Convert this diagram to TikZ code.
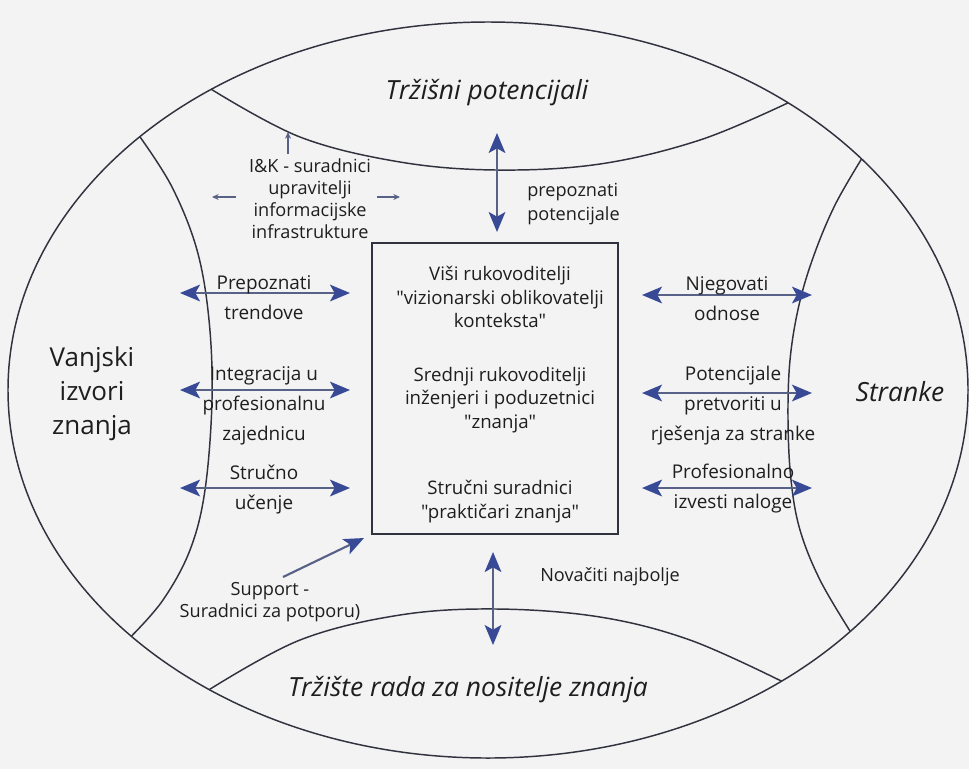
\documentclass[tikz,border=0pt]{standalone}
\usepackage{fontspec}
\setmainfont{Open Sans}[Ligatures=TeXOff]
\usetikzlibrary{arrows.meta,calc}
\definecolor{bg}{RGB}{243,243,243}
\definecolor{ln}{RGB}{48,50,62}
\definecolor{arr}{RGB}{56,74,150}
\definecolor{shaft}{RGB}{88,98,135}
\definecolor{txt}{RGB}{30,30,32}
\begin{document}
\begin{tikzpicture}[x=0.75pt,y=-0.75pt,
  curve/.style={draw=ln, line width=1.1pt},
  dbl/.style={draw=shaft, line width=1.6pt, {Stealth[length=15pt,width=12.5pt,inset=3.5pt,color=arr]}-{Stealth[length=15pt,width=12.5pt,inset=3.5pt,color=arr]}},
  sgl/.style={draw=shaft, line width=1.6pt, -{Stealth[length=15pt,width=12.5pt,inset=3.5pt,color=arr]}},
  thin/.style={draw=shaft, line width=0.9pt, -{Stealth[length=5pt,width=4.5pt]}},
  lbl/.style={text=txt, align=center, font=\fontsize{14.2pt}{22.5pt}\selectfont, inner sep=0pt},
  boxt/.style={text=txt, align=center, font=\fontsize{14pt}{17.5pt}\selectfont, inner sep=0pt},
  ikt/.style={text=txt, align=center, font=\fontsize{13.6pt}{16.5pt}\selectfont, inner sep=0pt},
  title/.style={text=txt, align=center, font=\fontsize{19.8pt}{25.5pt}\selectfont\itshape, inner sep=0pt},
  side/.style={text=txt, align=center, font=\fontsize{19.5pt}{25.5pt}\selectfont, inner sep=0pt}
]
\fill[bg] (0,0) rectangle (969,769);
\useasboundingbox (0,0) rectangle (969,769);

% outer ellipse
\coordinate (C) at (488,390);
\draw[curve] (C) ellipse [x radius=480, y radius=368];

% ellipse junction points
\coordinate (TL) at ($(C)+(-125.2:480 and 368)$);
\coordinate (TR) at ($(C)+(-51.3:480 and 368)$);
\coordinate (BL) at ($(C)+(125.5:480 and 368)$);
\coordinate (BR) at ($(C)+(52.3:480 and 368)$);
\coordinate (LT) at ($(C)+(-136.5:480 and 368)$);
\coordinate (LB) at ($(C)+(138:480 and 368)$);
\coordinate (RT) at ($(C)+(-38.9:480 and 368)$);
\coordinate (RB) at ($(C)+(41:480 and 368)$);

% inner arcs
\draw[curve] plot[smooth, tension=0.6] coordinates {(TL) (300,137) (400,162) (497,170) (600,164) (700,140) (TR)};
\draw[curve] plot[smooth, tension=0.6] coordinates {(BL) (300,640) (400,615) (497,609) (600,617) (690,640) (BR)};
\draw[curve] plot[smooth, tension=0.6] coordinates {(LT) (172,187) (197,250) (209,320) (212,400) (205,490) (190,550) (163,600) (LB)};
\draw[curve] plot[smooth, tension=0.6] coordinates {(RT) (835,205) (814,255) (799,305) (790,360) (788,420) (791,480) (800,530) (820,580) (RB)};

% central box
\node[draw=ln, line width=1.2pt, minimum width=184.5pt, minimum height=218.25pt, inner sep=0pt] (box) at (495,388.5) {};
\node[boxt] (b1) at (500,297) {Viši rukovoditelji\\"vizionarski oblikovatelji\\konteksta"};
\node[boxt] (b2) at (500,400) {Srednji rukovoditelji\\inženjeri i poduzetnici\\"znanja"};
\node[boxt] (b3) at (500,501.5) {Stručni suradnici\\"praktičari znanja"};

% titles
\node[title] (tp) at (487,93) {Tržišni potencijali};
\node[title] (tr) at (468,690) {Tržište rada za nositelje znanja};
\node[title] (st) at (900,392) {Stranke};
\node[side] (vz) at (92,394) {Vanjski\\izvori\\znanja};

% left arrows
\coordinate (l1a) at (180,293); \coordinate (l1b) at (350,293);
\coordinate (l2a) at (180,390); \coordinate (l2b) at (350,390);
\coordinate (l3a) at (180,488); \coordinate (l3b) at (350,488);
\draw[dbl] (l1a) -- (l1b);
\draw[dbl] (l2a) -- (l2b);
\draw[dbl] (l3a) -- (l3b);
\node[lbl] (ll1) at (264,297.5) {Prepoznati\\trendove};
\node[lbl] (ll2) at (264,406) {Integracija u\\profesionalnu\\zajednicu};
\node[lbl] (ll3) at (264,490) {Stručno\\učenje};

% right arrows
\coordinate (r1a) at (642,295); \coordinate (r1b) at (812,295);
\coordinate (r2a) at (642,393); \coordinate (r2b) at (812,393);
\coordinate (r3a) at (642,488); \coordinate (r3b) at (812,488);
\draw[dbl] (r1a) -- (r1b);
\draw[dbl] (r2a) -- (r2b);
\draw[dbl] (r3a) -- (r3b);
\node[lbl] (rl1) at (727,298.5) {Njegovati\\odnose};
\node[lbl] (rl2) at (733,406) {Potencijale\\pretvoriti u\\rješenja za stranke};
\node[lbl] (rl3) at (733,489) {Profesionalno\\izvesti naloge};

% vertical arrows
\coordinate (v1a) at (497,133); \coordinate (v1b) at (497,232);
\coordinate (v2a) at (493,552); \coordinate (v2b) at (493,645);
\draw[dbl] (v1a) -- (v1b);
\draw[dbl] (v2a) -- (v2b);
\node[lbl, align=left, font=\fontsize{13.6pt}{18pt}\selectfont, anchor=west] (pp) at (527,204) {prepoznati\\potencijale};
\node[lbl, font=\fontsize{13.6pt}{18pt}\selectfont, anchor=west] (nb) at (540,577) {Novačiti najbolje};

% I&K
\node[ikt] (ik) at (310,199) {I\&K - suradnici\\upravitelji\\informacijske\\infrastrukture};
\coordinate (iku0) at (288,154); \coordinate (iku) at (288,132);
\coordinate (ikl0) at (236,197); \coordinate (ikl) at (212,197);
\coordinate (ikr0) at (377,197); \coordinate (ikr) at (400,197);
\draw[thin] (iku0) -- (iku);
\draw[thin] (ikl0) -- (ikl);
\draw[thin] (ikr0) -- (ikr);

% Support
\node[ikt] (sp) at (270,602) {Support -\\Suradnici za potporu)};
\coordinate (sp0) at (283,577); \coordinate (sp1) at (364,538);
\draw[sgl] (sp0) -- (sp1);
\end{tikzpicture}
\end{document}
